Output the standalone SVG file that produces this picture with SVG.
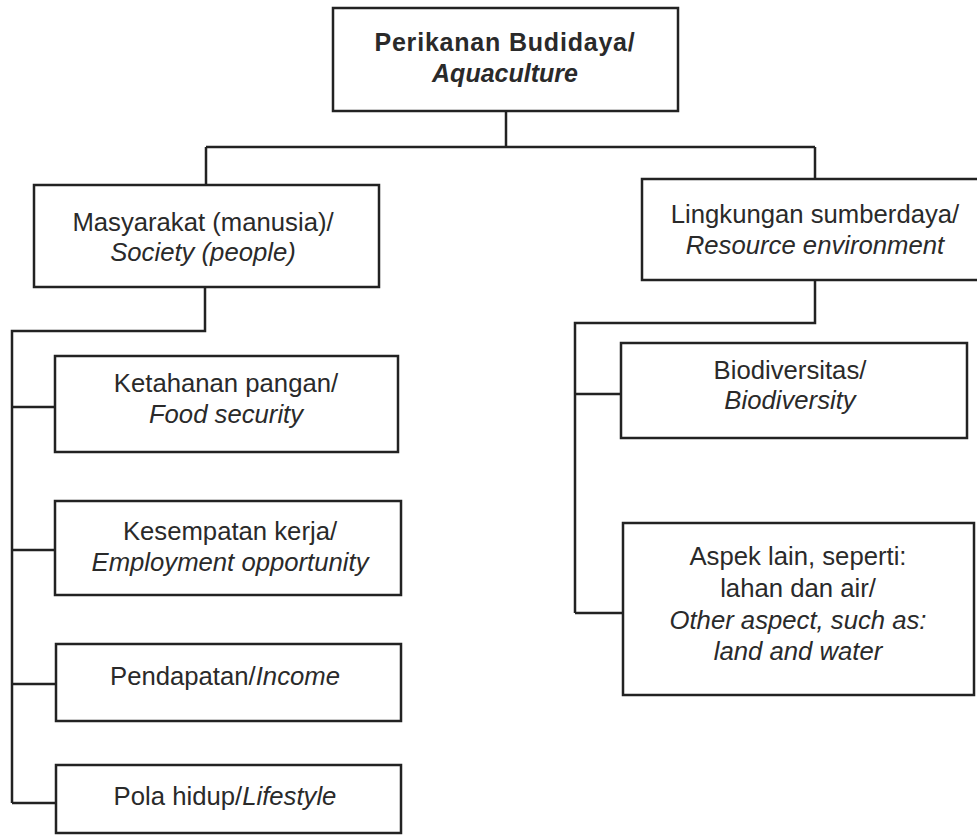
<svg xmlns="http://www.w3.org/2000/svg" width="977" height="837" viewBox="0 0 977 837">
<style>
.box{fill:#fff;stroke:#222;stroke-width:2.5}
.con{fill:none;stroke:#222;stroke-width:2.5}
text{font-family:"Liberation Sans",Arial,sans-serif;font-size:25.7px;fill:#2a2a2a;text-anchor:middle}
.b{font-weight:bold;font-size:25px;letter-spacing:0.8px}
.i{font-style:italic}
</style>
<rect width="977" height="837" fill="#fff"/>
<g id="connectors">
<path class="con" d="M506,111 V147 M206,147 H815 M206,147 V185 M815,147 V179"/>
<path class="con" d="M205,287 V331 H12 V803 M12,407 H55 M12,550 H55 M12,684 H56 M12,803 H56"/>
<path class="con" d="M815,280 V323 H575 V613 M575,394 H621 M575,613 H623"/>
</g>
<g id="aquaculture">
<rect class="box" x="333" y="8" width="345" height="103"/>
<text class="b" x="505" y="51">Perikanan Budidaya/</text>
<text class="b i" x="505" y="82" style="letter-spacing:0">Aquaculture</text>
</g>
<g id="society">
<rect class="box" x="34" y="185" width="345" height="102"/>
<text x="203" y="231">Masyarakat (manusia)/</text>
<text class="i" x="203" y="261">Society (people)</text>
</g>
<g id="resource">
<rect class="box" x="642" y="179" width="345" height="101"/>
<text x="815" y="223">Lingkungan sumberdaya/</text>
<text class="i" x="815" y="254">Resource environment</text>
</g>
<g id="food">
<rect class="box" x="55" y="356" width="343" height="96"/>
<text x="226" y="392">Ketahanan pangan/</text>
<text class="i" x="226" y="423">Food security</text>
</g>
<g id="employment">
<rect class="box" x="55" y="501" width="346" height="94"/>
<text x="230" y="540">Kesempatan kerja/</text>
<text class="i" x="230" y="571">Employment opportunity</text>
</g>
<g id="income">
<rect class="box" x="56" y="644" width="345" height="77"/>
<text x="225" y="685">Pendapatan/<tspan class="i">Income</tspan></text>
</g>
<g id="lifestyle">
<rect class="box" x="56" y="765" width="345" height="68"/>
<text x="225" y="805">Pola hidup/<tspan class="i">Lifestyle</tspan></text>
</g>
<g id="biodiversity">
<rect class="box" x="621" y="343" width="346" height="95"/>
<text x="790" y="379">Biodiversitas/</text>
<text class="i" x="790" y="409">Biodiversity</text>
</g>
<g id="other">
<rect class="box" x="623" y="523" width="351" height="172"/>
<text x="798" y="565">Aspek lain, seperti:</text>
<text x="798" y="597">lahan dan air/</text>
<text class="i" x="798" y="629">Other aspect, such as:</text>
<text class="i" x="798" y="660">land and water</text>
</g>
</svg>
